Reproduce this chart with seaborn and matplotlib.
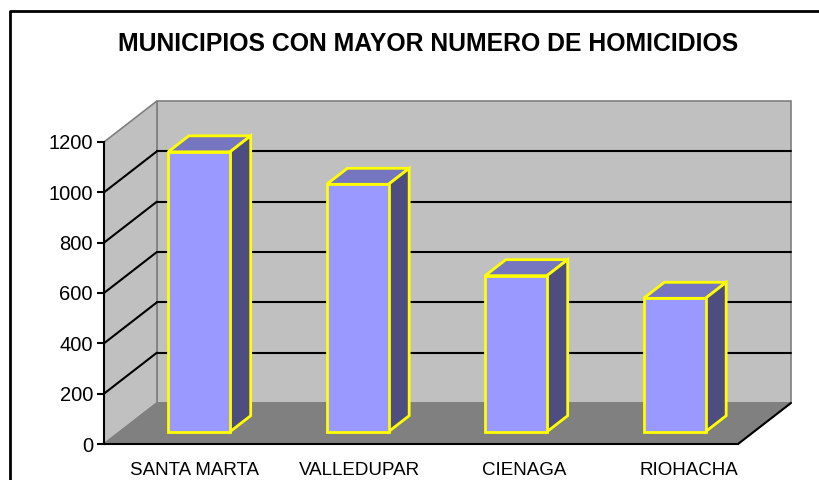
import matplotlib
matplotlib.use('Agg')
import matplotlib.pyplot as plt
import seaborn as sns
from matplotlib.patches import Polygon
from matplotlib.lines import Line2D

# data
municipios = ['SANTA MARTA', 'VALLEDUPAR', 'CIENAGA', 'RIOHACHA']
homicidios = [1112, 983, 620, 530]
y_ticks = [0, 200, 400, 600, 800, 1000, 1200]

# fake 3D depth, expressed in data units of the front plane
DX = 0.334   # depth shift along x (categories)
DY = 163.0   # depth shift along y (values)
BAR_Z0, BAR_Z1 = 0.30, 0.69
BAR_W = 0.39
YMAX = 1200

WALL = '#C0C0C0'
FLOOR = '#808080'
EDGE = '#808080'
FRONT = '#9999FF'
TOP = '#7575C0'
SIDE = '#4D4D80'
YELLOW = '#FFFF00'


def proj(x, y, z):
    return (x + z * DX, y + z * DY)


sns.set_theme(style='white')
plt.rcParams['font.family'] = ['Liberation Sans', 'DejaVu Sans']
plt.rcParams['text.color'] = 'black'
plt.rcParams['xtick.color'] = 'black'
plt.rcParams['ytick.color'] = 'black'

fig = plt.figure(figsize=(8.2, 4.8), dpi=100)
ax = fig.add_axes([104 / 820, 36 / 480, 634 / 820, 302 / 480])
ax.patch.set_visible(False)

# front faces via seaborn first so the bar container is easy to find
sns.barplot(x=municipios, y=homicidios, ax=ax, width=BAR_W, color=FRONT,
            saturation=1, edgecolor=YELLOW, linewidth=2)
bars = list(ax.containers[0])
ax.set_xlim(-0.5, len(municipios) - 0.5)
ax.set_ylim(0, YMAX)

x0, x1 = -0.5, len(municipios) - 0.5

# walls and floor
back = [proj(x0, 0, 1), proj(x1, 0, 1), proj(x1, YMAX, 1), proj(x0, YMAX, 1)]
side = [proj(x0, 0, 0), proj(x0, YMAX, 0), proj(x0, YMAX, 1), proj(x0, 0, 1)]
floor = [proj(x0, 0, 0), proj(x1, 0, 0), proj(x1, 0, 1), proj(x0, 0, 1)]
for pts in [back, side]:
    ax.add_patch(Polygon(pts, closed=True, facecolor=WALL, edgecolor=EDGE,
                         lw=1.2, clip_on=False, zorder=1))

# gridlines on back wall and side wall
for t in y_ticks[1:-1]:
    bx = [proj(x0, t, 1)[0], proj(x1, t, 1)[0]]
    by = [proj(x0, t, 1)[1], proj(x1, t, 1)[1]]
    ax.add_line(Line2D(bx, by, color='black', lw=1.5, clip_on=False, zorder=2))
    sx = [proj(x0, t, 0)[0], proj(x0, t, 1)[0]]
    sy = [proj(x0, t, 0)[1], proj(x0, t, 1)[1]]
    ax.add_line(Line2D(sx, sy, color='black', lw=1.5, clip_on=False, zorder=2))

ax.add_patch(Polygon(floor, closed=True, facecolor=FLOOR, edgecolor=EDGE,
                     lw=1.2, clip_on=False, zorder=3))
fx = [proj(x1, 0, 0)[0], proj(x1, 0, 1)[0]]
fy = [proj(x1, 0, 0)[1], proj(x1, 0, 1)[1]]
ax.add_line(Line2D(fx, fy, color='black', lw=1.5, clip_on=False, zorder=3))

# push the bars back into the box and add top / side faces
for bar, val in zip(bars, homicidios):
    bx0 = bar.get_x()
    bw = bar.get_width()
    bar.set_x(bx0 + BAR_Z0 * DX)
    bar.set_y(BAR_Z0 * DY)
    bar.set_height(val)
    bar.set_clip_on(False)
    bar.set_zorder(6)
    xa, xb = bx0, bx0 + bw
    top = [proj(xa, val, BAR_Z0), proj(xb, val, BAR_Z0),
           proj(xb, val, BAR_Z1), proj(xa, val, BAR_Z1)]
    sd = [proj(xb, 0, BAR_Z0), proj(xb, val, BAR_Z0),
          proj(xb, val, BAR_Z1), proj(xb, 0, BAR_Z1)]
    ax.add_patch(Polygon(top, closed=True, facecolor=TOP, edgecolor=YELLOW,
                         lw=2, clip_on=False, zorder=5))
    ax.add_patch(Polygon(sd, closed=True, facecolor=SIDE, edgecolor=YELLOW,
                         lw=2, clip_on=False, zorder=5))

# axes styling
for s in ['top', 'right']:
    ax.spines[s].set_visible(False)
for s in ['left', 'bottom']:
    ax.spines[s].set_color('black')
    ax.spines[s].set_linewidth(1.5)
    ax.spines[s].set_zorder(4)
ax.set_yticks(y_ticks)
ax.set_yticklabels([str(t) for t in y_ticks], fontsize=14.5)
ax.tick_params(axis='y', left=True, length=5, width=1.5, color='black',
               direction='out', pad=3)
ax.set_xticks([i + 0.3 * DX - 0.03 + 0.04 * i for i in range(len(municipios))])
ax.set_xticklabels(municipios, fontsize=13.5)
ax.tick_params(axis='x', bottom=False, pad=7)
ax.set_xlabel('')
ax.set_ylabel('')

fig.text(428 / 820, 1 - 44 / 480, 'MUNICIPIOS CON MAYOR NUMERO DE HOMICIDIOS',
         ha='center', va='center', fontsize=17.8, fontweight='bold')

# chart frame (left and top edges visible in the reference)
fig.add_artist(Line2D([10 / 820, 10 / 820, 1.0], [0.0, 1 - 11 / 480, 1 - 11 / 480],
                      transform=fig.transFigure, color='black', lw=2))

fig.savefig('out.png', dpi=100)
